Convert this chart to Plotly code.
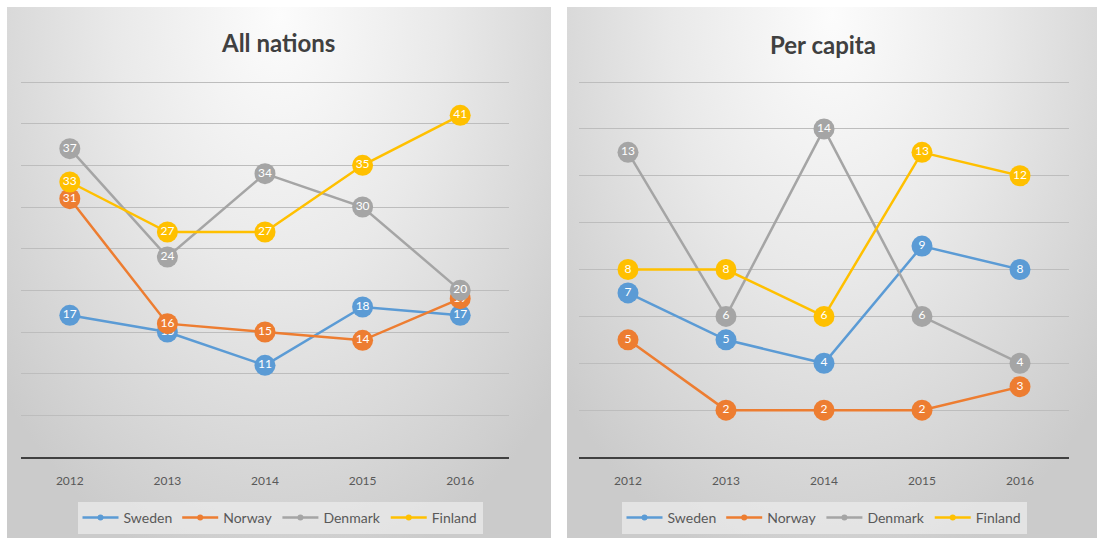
import plotly.graph_objects as go

years = ["2012", "2013", "2014", "2015", "2016"]
countries = ["Sweden", "Norway", "Denmark", "Finland"]

all_sweden = [17, 15, 11, 18, 17]
all_norway = [31, 16, 15, 14, 19]
all_denmark = [37, 24, 34, 30, 20]
all_finland = [33, 27, 27, 35, 41]

pc_sweden = [7, 5, 4, 9, 8]
pc_norway = [5, 2, 2, 2, 3]
pc_denmark = [13, 6, 14, 6, 4]
pc_finland = [8, 8, 6, 13, 12]

colors = ["#5B9BD5", "#ED7D31", "#A5A5A5", "#FFC000"]

W, H = 1102, 538
FONT = "Lato"

fig = go.Figure()

# Panel backgrounds (decoration): each on its own hidden axis pair covering the panel
panels = [(7, 551, "x", "y"), (567, 1097, "x2", "y2")]
for x0, x1, xa, ya in panels:
    cx = (x0 + x1) / 2
    rx = (x1 - x0) / 2 * 1.35
    cy = 15
    ry = (538 - cy) * 1.1
    fig.add_trace(go.Scatter(
        x=[cx - rx, cx + rx, cx + rx, cx - rx, cx - rx],
        y=[cy - ry, cy - ry, cy + ry, cy + ry, cy - ry],
        mode="lines", fill="toself", line=dict(width=0, color="rgba(0,0,0,0)"),
        fillgradient=dict(type="radial",
                          colorscale=[[0, "#fcfcfc"], [0.45, "#e9e9e9"], [1, "#cbcbcb"]]),
        xaxis=xa, yaxis=ya, showlegend=False, hoverinfo="skip"))

def add_series(vals_list, xa, ya, legend):
    for name, vals, col in zip(countries, vals_list, colors):
        fig.add_trace(go.Scatter(
            x=years, y=vals, mode="lines+markers+text", text=[str(v) for v in vals],
            textposition="middle center",
            textfont=dict(family=FONT, size=12, color="white"),
            line=dict(color=col, width=2.5),
            marker=dict(size=21, color=col),
            xaxis=xa, yaxis=ya, showlegend=False, hoverinfo="skip", cliponaxis=False))
    for name, col in zip(countries, colors):
        fig.add_trace(go.Scatter(
            x=[None], y=[None], mode="lines+markers", name=name,
            line=dict(color=col, width=2.5), marker=dict(size=6, color=col),
            xaxis=xa, yaxis=ya, legend=legend, showlegend=True))

add_series([all_sweden, all_norway, all_denmark, all_finland], "x3", "y3", "legend")
add_series([pc_sweden, pc_norway, pc_denmark, pc_finland], "x4", "y4", "legend2")

xcommon = dict(type="category", range=[-0.5, 4.5], showgrid=False, showline=True,
               linecolor="#404040", linewidth=2, ticks="", ticklabelstandoff=12,
               tickfont=dict(family=FONT, size=12, color="#595959"), zeroline=False,
               fixedrange=True)
ycommon = dict(showticklabels=False, zeroline=False, gridcolor="#bdbdbd", gridwidth=1,
               showline=False, ticks="", fixedrange=True)

top_px = 79
fig.update_layout(
    width=W, height=H, margin=dict(l=0, r=0, t=0, b=0),
    paper_bgcolor="white", plot_bgcolor="rgba(0,0,0,0)",
    xaxis=dict(domain=[7 / W, 551 / W], range=[7, 551], visible=False, fixedrange=True),
    yaxis=dict(domain=[0, 1 - 7 / H], range=[H, 7], visible=False, fixedrange=True),
    xaxis2=dict(domain=[567 / W, 1097 / W], range=[567, 1097], visible=False, fixedrange=True),
    yaxis2=dict(domain=[0, 1 - 7 / H], range=[H, 7], visible=False, fixedrange=True),
    xaxis3=dict(domain=[21 / W, 509 / W], anchor="y3", **xcommon),
    yaxis3=dict(domain=[1 - 457 / H, 1 - top_px / H], anchor="x3",
                range=[0, 45 * (457 - top_px) / (457 - 82)], tick0=0, dtick=5, **ycommon),
    xaxis4=dict(domain=[579 / W, 1069 / W], anchor="y4", **xcommon),
    yaxis4=dict(domain=[1 - 457 / H, 1 - top_px / H], anchor="x4",
                range=[0, 16 * (457 - top_px) / (457 - 82)], tick0=0, dtick=2, **ycommon),
    legend=dict(orientation="h", x=280 / W, xanchor="center", y=1 - 502 / H, yanchor="top",
                bgcolor="rgba(236,236,236,0.7)", font=dict(family=FONT, size=14, color="#595959"),
                itemwidth=36, tracegroupgap=0),
    legend2=dict(orientation="h", x=824 / W, xanchor="center", y=1 - 502 / H, yanchor="top",
                 bgcolor="rgba(236,236,236,0.7)", font=dict(family=FONT, size=14, color="#595959"),
                 itemwidth=36, tracegroupgap=0),
    annotations=[
        dict(text="<b>All nations</b>", x=278 / W, y=1 - 42 / H, xref="paper", yref="paper",
             showarrow=False, font=dict(family=FONT, size=24, color="#404040"),
             xanchor="center", yanchor="middle"),
        dict(text="<b>Per capita</b>", x=823 / W, y=1 - 44 / H, xref="paper", yref="paper",
             showarrow=False, font=dict(family=FONT, size=24, color="#404040"),
             xanchor="center", yanchor="middle"),
    ],
    showlegend=True,
)

fig.write_html("out.html", config={"displayModeBar": False},
               post_script="document.body.style.margin='0';")
